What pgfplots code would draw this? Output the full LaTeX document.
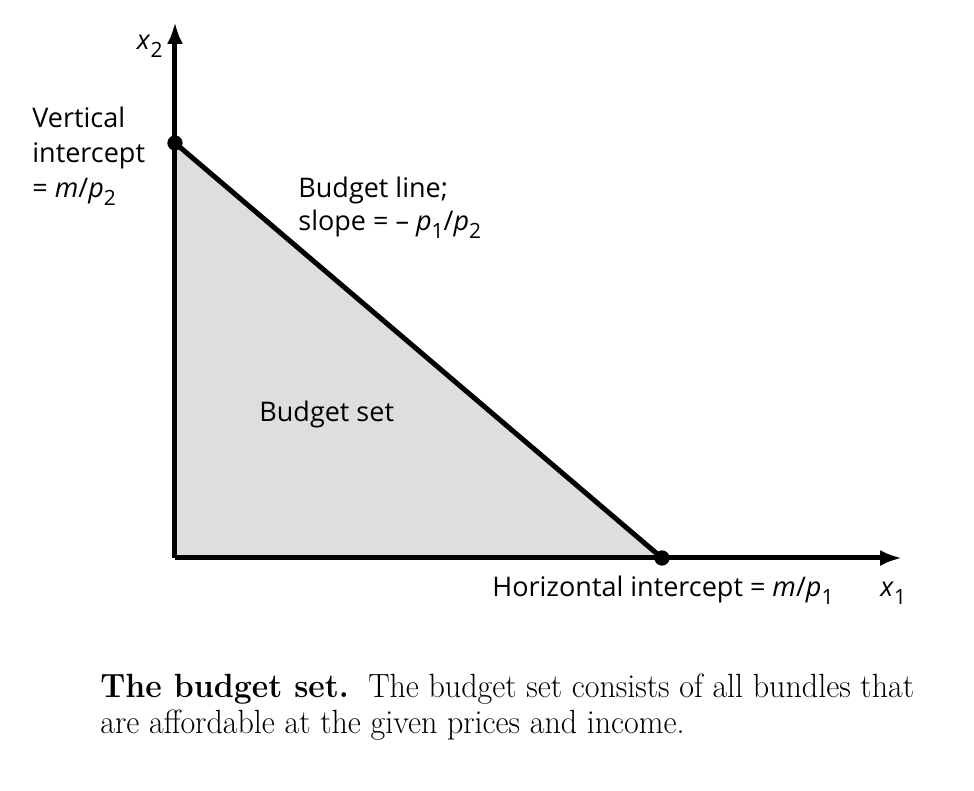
\documentclass[border=0pt]{standalone}
\usepackage{fontspec}
\usepackage{pgfplots}
\pgfplotsset{compat=1.18}
\usetikzlibrary{arrows.meta}
\newfontfamily\lab{Open Sans}
\newcommand{\sub}[1]{\raisebox{-0.5ex}{\fontsize{10.5}{10.5}\selectfont #1}}
\definecolor{setgray}{gray}{0.87}
\begin{document}
\begin{tikzpicture}
\begin{axis}[
  x=0.5pt, y=0.5pt,
  xmin=0, xmax=727, ymin=0, ymax=536,
  axis lines=left,
  ticks=none,
  clip=false,
  axis line style={line width=2.5pt, -{Latex[length=11pt,width=8pt]}},
]
\path (axis cs:-175,-233) rectangle (axis cs:799,558);
% budget set area
\addplot[fill=setgray, draw=none] coordinates {(0,0) (0,415) (487,0)} -- cycle;
% budget line
\addplot[line width=2.5pt, black] coordinates {(0,415) (487,0)};
% intercept dots
\addplot[only marks, mark=*, mark size=3.6pt, black] coordinates {(0,415) (487,0)};
% redraw axes lines on top
\addplot[line width=2.5pt, black] coordinates {(0,0) (700,0)};
\addplot[line width=2.5pt, black] coordinates {(0,0) (0,510)};

\begin{scope}[every node/.style={font=\lab\fontsize{13.5}{15}\selectfont, inner sep=0pt}]
\node[anchor=base east] at (axis cs:-12,508) {\textit{x}\sub{2}};
\node[anchor=base west] at (axis cs:-143,430) {Vertical};
\node[anchor=base west] at (axis cs:-143,395) {intercept};
\node[anchor=base west] at (axis cs:-143,360) {= \textit{m}/\textit{p}\sub{2}};
\node[anchor=base west] at (axis cs:123,360) {Budget line;};
\node[anchor=base west] at (axis cs:123,327) {slope = \textendash\ \textit{p}\sub{1}/\textit{p}\sub{2}};
\node[anchor=base west] at (axis cs:84,136) {Budget set};
\node[anchor=base west] at (axis cs:317,-39) {Horizontal intercept = \textit{m}/\textit{p}\sub{1}};
\node[anchor=base west] at (axis cs:705,-39) {\textit{x}\sub{1}};
\end{scope}
\begin{scope}[every node/.style={font=\fontsize{16}{18}\selectfont, inner sep=0pt, yscale=1.05}]
\node[anchor=base west] at (axis cs:-75,-139) {\textbf{The budget set.}\ \ The budget set consists of all bundles that};
\node[anchor=base west] at (axis cs:-75,-175) {are affordable at the given prices and income.};
\end{scope}
\end{axis}
\end{tikzpicture}
\end{document}
